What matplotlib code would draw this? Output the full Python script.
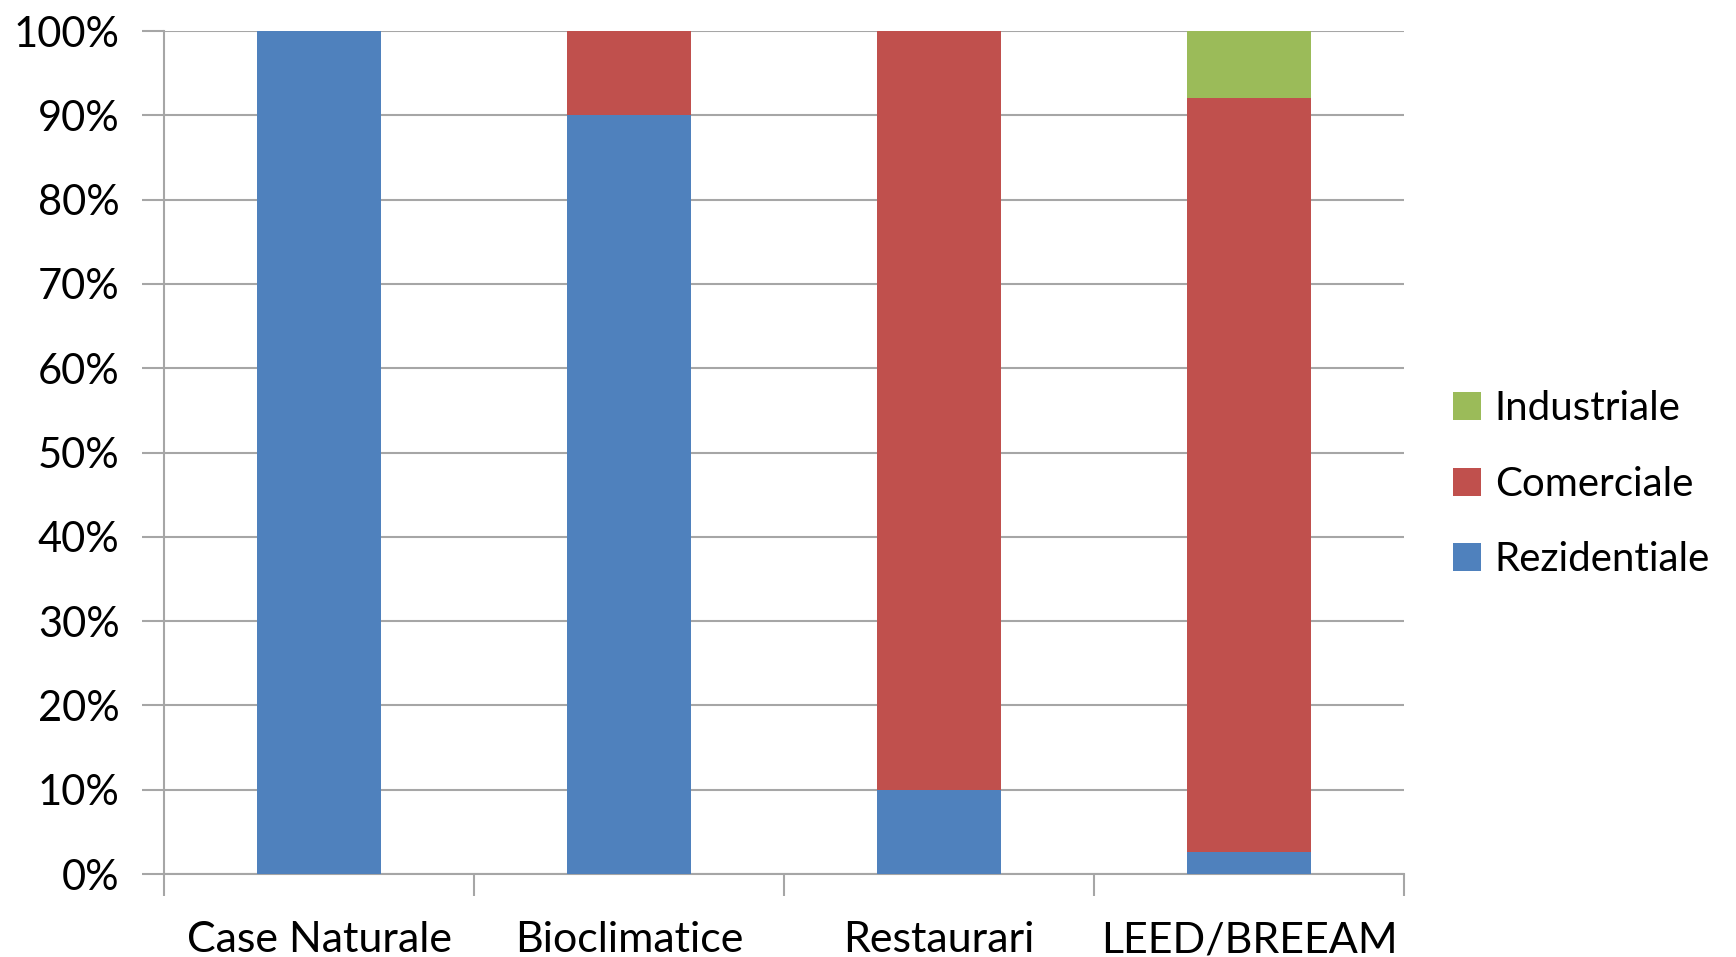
import numpy as np
import matplotlib.pyplot as plt
from matplotlib.ticker import PercentFormatter, FixedLocator

categories = ['Case Naturale', 'Bioclimatice', 'Restaurari', 'LEED/BREEAM']
rezidentiale = [100, 90, 10, 2.6]
comerciale = [0, 10, 90, 89.5]
industriale = [0, 0, 0, 7.9]

plt.rcParams['font.family'] = ['Lato', 'DejaVu Sans']

fig = plt.figure(figsize=(17.36, 9.57), dpi=100)
ax = fig.add_axes([0.0945, 0.0867, 0.7143, 0.8809])

x = np.arange(len(categories))
w = 0.4
b1 = ax.bar(x, rezidentiale, w, color='#4F81BD', label='Rezidentiale', zorder=3)
b2 = ax.bar(x, comerciale, w, bottom=rezidentiale, color='#C0504D', label='Comerciale', zorder=3)
bottom3 = np.array(rezidentiale) + np.array(comerciale)
b3 = ax.bar(x, industriale, w, bottom=bottom3, color='#9BBB59', label='Industriale', zorder=3)

ax.set_xlim(-0.5, len(categories) - 0.5)
ax.set_ylim(0, 100)
ax.set_yticks(np.arange(0, 101, 10))
ax.yaxis.set_major_formatter(PercentFormatter(decimals=0))
ax.yaxis.grid(True, color='#a6a6a6', linewidth=1.5, zorder=0)

# category labels in the middle, ticks at the boundaries
ax.set_xticks(x)
ax.set_xticklabels(categories)
ax.tick_params(axis='x', which='major', length=0, pad=34, labelsize=31)
ax.xaxis.set_minor_locator(FixedLocator(np.arange(-0.5, len(categories), 1.0)))
ax.tick_params(axis='x', which='minor', length=16, width=1.5, color='#a6a6a6')
ax.tick_params(axis='y', length=16, width=1.5, color='#a6a6a6', labelsize=30, pad=16)

for s in ['top', 'right']:
    ax.spines[s].set_visible(False)
for s in ['left', 'bottom']:
    ax.spines[s].set_color('#a6a6a6')
    ax.spines[s].set_linewidth(1.5)

fig.legend(handles=[b3, b2, b1], labels=['Industriale', 'Comerciale', 'Rezidentiale'],
           loc='center left', bbox_to_anchor=(0.8205, 0.494), frameon=False,
           fontsize=29, handlelength=0.7, handleheight=0.7, labelspacing=0.95,
           handletextpad=0.35, borderaxespad=0.3)

plt.savefig('out.png')
